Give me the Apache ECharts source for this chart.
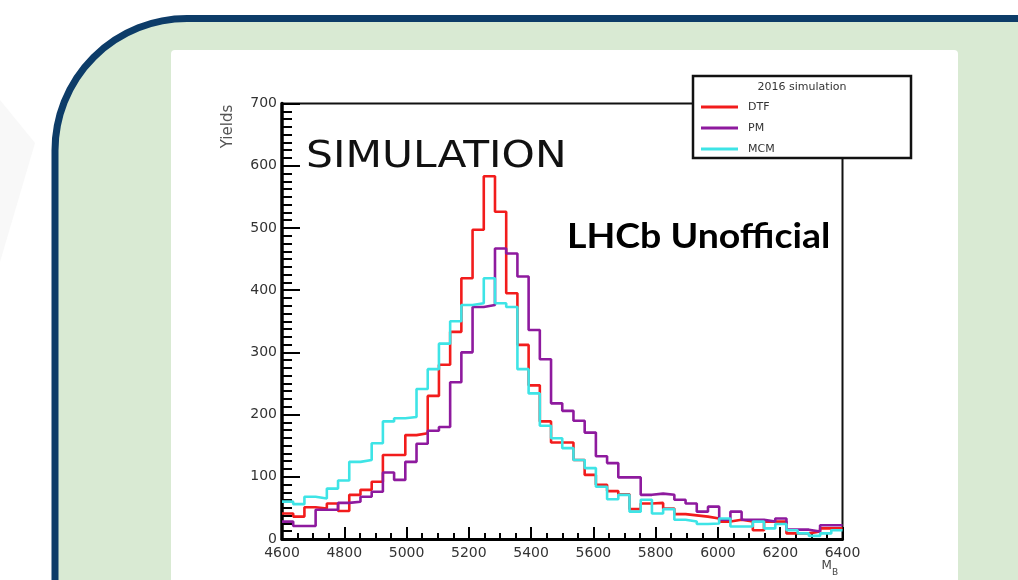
<!DOCTYPE html>
<html>
<head>
<meta charset="utf-8">
<script src="https://cdn.jsdelivr.net/npm/echarts@6/dist/echarts.min.js"></script>
<style>
  html, body { margin: 0; padding: 0; background: #ffffff; }
  #chart { width: 1018px; height: 580px; }
</style>
</head>
<body>
<div id="chart"></div>
<script>
// Histogram binning: 50 bins of 36 MeV starting at 4600
const binLow = 4600;
const binWidth = 36;

// Bin contents per reconstruction method
const dtf = [41, 36, 51, 49, 57, 45, 71, 79, 92, 135,
             135, 167, 170, 230, 280, 333, 419, 497, 583, 526,
             395, 312, 247, 189, 155, 155, 127, 103, 87, 77,
             72, 48, 57, 58, 49, 40, 38, 36, 33, 28,
             31, 28, 14, 28, 28, 9, 9, 12, 17, 17];
const pm  = [28, 21, 21, 47, 47, 58, 60, 68, 76, 107,
             95, 124, 153, 174, 180, 252, 300, 373, 376, 467,
             459, 422, 336, 289, 218, 206, 190, 171, 133, 122,
             99, 99, 71, 73, 71, 63, 57, 44, 52, 31,
             44, 31, 31, 28, 33, 15, 15, 12, 22, 22];
const mcm = [60, 56, 68, 65, 81, 94, 124, 127, 154, 189,
             194, 196, 241, 273, 314, 350, 376, 379, 419, 379,
             373, 273, 234, 182, 162, 146, 127, 114, 84, 64,
             71, 44, 63, 41, 48, 31, 28, 24, 25, 33,
             20, 20, 28, 17, 24, 14, 9, 5, 9, 14];

const seriesNames = ['DTF', 'PM', 'MCM'];
const seriesColors = ['#f21c1c', '#8e1a9e', '#3ee4e6'];
const legendTitle = '2016 simulation';

// Turn bin contents into step-line vertices at the bin edges
function stepPoints(values) {
  const pts = values.map((v, i) => [binLow + i * binWidth, v]);
  pts.push([binLow + values.length * binWidth, values[values.length - 1]]);
  return pts;
}

const chart = echarts.init(document.getElementById('chart'), null, { renderer: 'canvas' });

const labelFont = 'DejaVu Sans, Liberation Sans, sans-serif';
const seriesData = [dtf, pm, mcm];

const option = {
  animation: false,
  backgroundColor: '#ffffff',
  graphic: [
    // faint wedge on the page margin
    { type: 'polygon', z: -30, silent: true,
      shape: { points: [[0, 100], [35, 143], [0, 262]] },
      style: { fill: '#f8f8f8' } },
    // rounded green panel with navy border
    { type: 'rect', z: -20, silent: true,
      shape: { x: 55, y: 18.5, width: 1100, height: 800, r: 132 },
      style: { fill: '#d9ead3', stroke: '#0d3c68', lineWidth: 7 } },
    // white card holding the plot
    { type: 'rect', z: -10, silent: true,
      shape: { x: 171, y: 50, width: 787, height: 600, r: 4 },
      style: { fill: '#ffffff' } },
    // legend frame
    { type: 'rect', z: 20, silent: true,
      shape: { x: 693, y: 76, width: 218, height: 82 },
      style: { fill: '#ffffff', stroke: '#111111', lineWidth: 2.5 } },
    { type: 'text', z: 21, silent: true, x: 802, y: 87,
      style: { text: legendTitle, font: '11px ' + labelFont, fill: '#333333',
               align: 'center', verticalAlign: 'middle' } },
    // annotations
    { type: 'text', z: 22, silent: true, x: 306, y: 157, scaleX: 1.145,
      style: { text: 'SIMULATION', font: '37px ' + labelFont, fill: '#111111',
               align: 'left', verticalAlign: 'middle' } },
    { type: 'text', z: 22, silent: true, x: 567, y: 236.5, scaleX: 1.07,
      style: { text: 'LHCb Unofficial', font: 'bold 35px Lato, DejaVu Sans, sans-serif', fill: '#000000',
               align: 'left', verticalAlign: 'middle' } },
    // axis titles
    { type: 'text', z: 22, silent: true, x: 228, y: 126.5, rotation: Math.PI / 2,
      style: { text: 'Yields', font: '15px ' + labelFont, fill: '#555555',
               align: 'center', verticalAlign: 'middle' } },
    { type: 'text', z: 22, silent: true, x: 821.5, y: 566,
      style: { text: 'M', font: '12px ' + labelFont, fill: '#444444',
               align: 'left', verticalAlign: 'middle' } },
    { type: 'text', z: 22, silent: true, x: 832, y: 573,
      style: { text: 'B', font: '9px ' + labelFont, fill: '#444444',
               align: 'left', verticalAlign: 'middle' } }
  ],
  grid: {
    left: 282, top: 103.5, right: 175.5, bottom: 41,
    show: true, borderColor: '#111111', borderWidth: 2, backgroundColor: 'transparent'
  },
  legend: {
    data: seriesNames,
    orient: 'vertical',
    left: 701, top: 100,
    padding: 0,
    itemWidth: 37, itemHeight: 3, itemGap: 7,
    icon: 'rect',
    selectedMode: false,
    z: 21,
    textStyle: { fontFamily: labelFont, fontSize: 11, color: '#333333',
                 lineHeight: 14, padding: [0, 0, 0, 5] }
  },
  xAxis: {
    type: 'value', min: 4600, max: 6400, interval: 200,
    axisLine: { show: true, lineStyle: { color: '#000000', width: 3 } },
    axisTick: { show: true, inside: true, length: 12, lineStyle: { color: '#000000', width: 2 } },
    minorTick: { show: true, splitNumber: 4, length: 6, lineStyle: { color: '#000000', width: 2 } },
    splitLine: { show: false },
    axisLabel: { color: '#333333', fontFamily: labelFont, fontSize: 14, margin: 7,
                 showMinLabel: true, showMaxLabel: true,
                 formatter: v => String(v) }
  },
  yAxis: {
    type: 'value', min: 0, max: 700, interval: 100,
    axisLine: { show: true, lineStyle: { color: '#000000', width: 3.5 } },
    axisTick: { show: true, inside: true, length: 18, lineStyle: { color: '#000000', width: 2 } },
    minorTick: { show: true, splitNumber: 8, length: 10, lineStyle: { color: '#000000', width: 2 } },
    splitLine: { show: false },
    axisLabel: { color: '#333333', fontFamily: labelFont, fontSize: 14, margin: 5,
                 showMinLabel: true, showMaxLabel: true,
                 formatter: v => String(v) }
  },
  series: seriesNames.map((name, k) => ({
    name: name,
    type: 'line',
    step: 'end',
    data: stepPoints(seriesData[k]),
    symbol: 'none',
    showSymbol: false,
    z: 3 + k,
    lineStyle: { color: seriesColors[k], width: 2.6 },
    itemStyle: { color: seriesColors[k] }
  }))
};

chart.setOption(option);
</script>
</body>
</html>
